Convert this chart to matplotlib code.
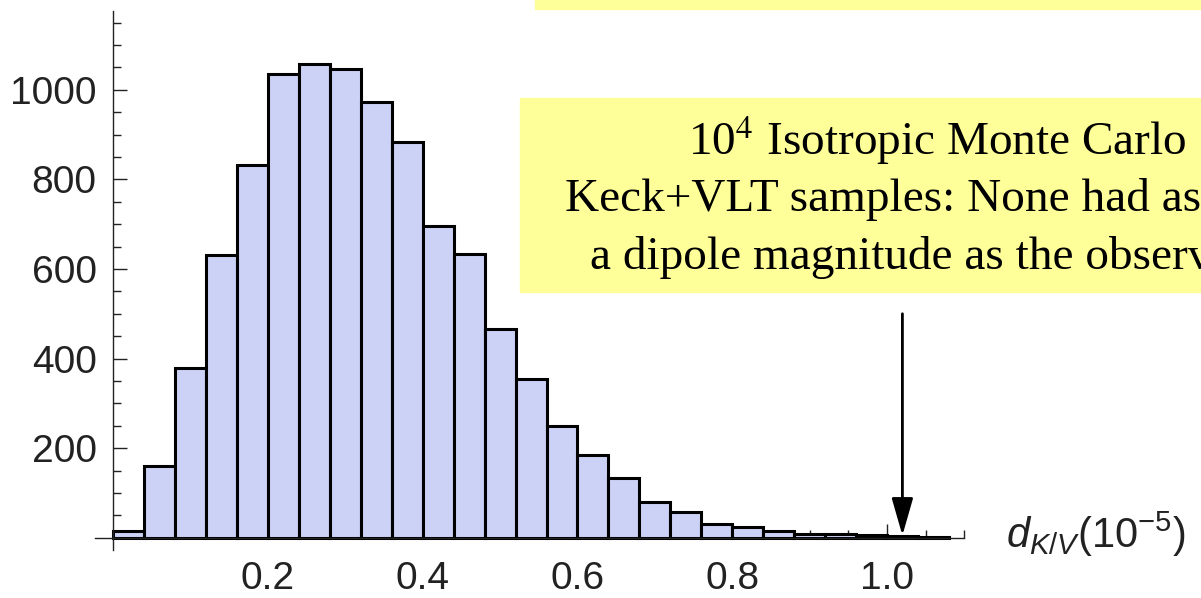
import matplotlib
matplotlib.use("Agg")
import matplotlib.pyplot as plt
from matplotlib.patches import Rectangle
from matplotlib.ticker import MultipleLocator, FixedLocator

plt.rcParams['font.family'] = ['Liberation Sans', 'DejaVu Sans']
plt.rcParams['mathtext.fontset'] = 'custom'
plt.rcParams['mathtext.rm'] = 'Liberation Sans'
plt.rcParams['mathtext.it'] = 'Liberation Sans:italic'

# histogram of dipole magnitudes from 10^4 isotropic Monte Carlo samples
bin_left = [0.00, 0.04, 0.08, 0.12, 0.16, 0.20, 0.24, 0.28, 0.32,
            0.36, 0.40, 0.44, 0.48, 0.52, 0.56, 0.60, 0.64, 0.68,
            0.72, 0.76, 0.80, 0.84, 0.88, 0.92, 0.96, 1.00, 1.04]
counts = [15, 159, 378, 631, 833, 1035, 1057, 1046, 972,
          884, 696, 633, 465, 354, 250, 184, 133, 79,
          57, 31, 24, 14, 9, 8, 5, 4, 2]
bin_width = 0.04

# observed dipole magnitude (arrow)
observed_d = 1.02
arrow_top = 500

x_ticks = [0.2, 0.4, 0.6, 0.8, 1.0]
x_labels = ['0.2', '0.4', '0.6', '0.8', '1.0']
y_ticks = [200, 400, 600, 800, 1000]

note_lines = ['10$^{4}$ Isotropic Monte Carlo',
              'Keck+VLT samples: None had as',
              'a dipole magnitude as the observ']

W, H = 1201, 598
fig = plt.figure(figsize=(W / 100, H / 100), dpi=100)
ax = fig.add_axes([95 / W, (H - 550) / H, (964.3 - 95) / W, (550 - 11) / H])

ax.bar(bin_left, counts, width=bin_width, align='edge',
       color='#ccd2f6', edgecolor='black', linewidth=2.2, zorder=2)

ax.annotate('', xy=(observed_d, 5), xytext=(observed_d, arrow_top),
            arrowprops=dict(arrowstyle='-|>,head_length=1.15,head_width=0.33',
                            mutation_scale=20, lw=2, color='black',
                            shrinkA=0, shrinkB=0), zorder=4)

ax.set_xlim(-0.0236, 1.1)
ax.set_ylim(-27.5, 1176)

# axes crossing at the origin
for side in ('top', 'right'):
    ax.spines[side].set_visible(False)
ax.spines['left'].set_position(('data', 0))
ax.spines['bottom'].set_position(('data', 0))
for side in ('left', 'bottom'):
    ax.spines[side].set_linewidth(1.0)
    ax.spines[side].set_color('#222222')
    ax.spines[side].set_zorder(3)

ax.xaxis.set_major_locator(FixedLocator(x_ticks))
ax.set_xticklabels(x_labels)
ax.xaxis.set_minor_locator(MultipleLocator(0.05))
ax.yaxis.set_major_locator(FixedLocator(y_ticks))
ax.yaxis.set_minor_locator(MultipleLocator(50))

ax.tick_params(axis='x', which='major', direction='in', length=10, width=1.0,
               pad=17, labelsize=28, colors='#222222')
ax.tick_params(axis='x', which='minor', direction='in', length=6, width=1.0,
               colors='#222222')
ax.tick_params(axis='y', which='major', direction='in', length=10, width=1.0,
               pad=12, labelsize=28, colors='#222222')
ax.tick_params(axis='y', which='minor', direction='in', length=6, width=1.0,
               colors='#222222')

fig.text(1006 / W, (H - 548) / H, r'$d_{K/V}(10^{-5})$', fontsize=30,
         color='#222222', ha='left', va='baseline')

# yellow caption boxes
fig.patches.append(Rectangle((535 / W, (H - 9) / H), (W - 535) / W, 9 / H,
                             transform=fig.transFigure, color='#ffff99',
                             zorder=0))
fig.patches.append(Rectangle((520 / W, (H - 292) / H), (W - 520) / W,
                             (292 - 98) / H, transform=fig.transFigure,
                             color='#ffff99', zorder=0))

note_x = [688, 565, 590]
note_y = [155, 211, 269]
for text, x, y in zip(note_lines, note_x, note_y):
    fig.text(x / W, (H - y) / H, text, fontsize=34, family='Liberation Serif',
             math_fontfamily='stix', ha='left', va='baseline', color='black')

fig.savefig('out.png', dpi=100)
